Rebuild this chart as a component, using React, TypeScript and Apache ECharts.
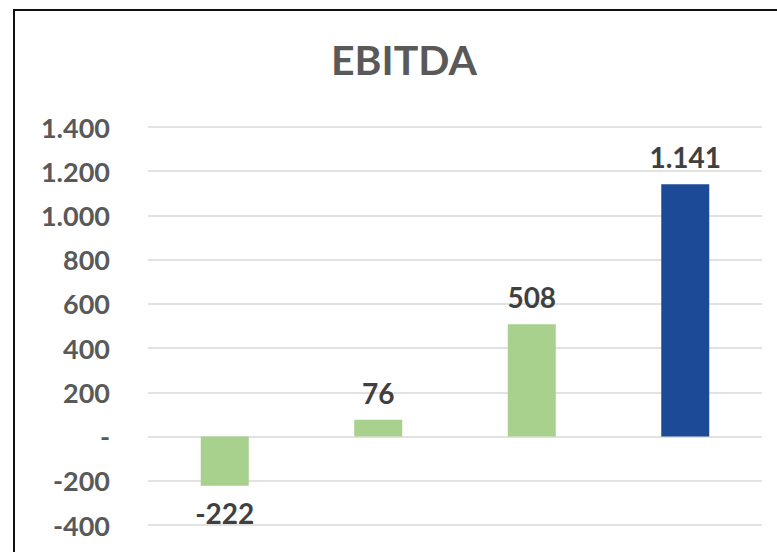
import React, { useEffect, useRef } from "react";
import * as echarts from "echarts";

const categories = ["A", "B", "C", "D"];
const values = [-222, 76, 508, 1141];
const barColors = ["#A9D18E", "#A9D18E", "#A9D18E", "#1C4A97"];
const yMin = -400;
const yMax = 1400;
const yInterval = 200;

const fmt = (v: number) => {
  if (v === 0) return "-";
  const s = Math.abs(v).toString().replace(/\B(?=(\d{3})+(?!\d))/g, ".");
  return (v < 0 ? "-" : "") + s;
};

export default function App() {
  const ref = useRef<HTMLDivElement>(null);
  useEffect(() => {
    if (!ref.current) return;
    const chart = echarts.init(ref.current, undefined, { renderer: "svg" });
    const font = "Lato, 'Open Sans', sans-serif";
    chart.setOption({
      animation: false,
      backgroundColor: "#FFFFFF",
      title: {
        text: "EBITDA",
        left: 326,
        top: 34,
        textStyle: { fontFamily: font, fontSize: 41, fontWeight: "bold", color: "#595959" },
      },
      graphic: [
        {
          type: "rect",
          shape: { x: 14, y: 10, width: 900, height: 900 },
          style: { fill: "none", stroke: "#111", lineWidth: 2 },
          z: 100,
        },
      ],
      grid: { left: 148, right: 15, top: 127, bottom: 27, containLabel: false },
      xAxis: {
        type: "category",
        data: categories,
        axisLine: { show: false },
        axisTick: { show: false },
        axisLabel: { show: false },
      },
      yAxis: {
        type: "value",
        min: yMin,
        max: yMax,
        interval: yInterval,
        axisLine: { show: false },
        axisTick: { show: false },
        splitLine: { lineStyle: { color: "#D9D9D9", width: 1.5 } },
        axisLabel: {
          margin: 38,
          formatter: (v: number) => fmt(v),
          fontFamily: font,
          fontSize: 27,
          fontWeight: "bold",
          color: "#595959",
        },
      },
      series: [
        {
          type: "bar",
          barWidth: 48,
          data: values.map((v, i) => ({
            value: v,
            itemStyle: { color: barColors[i] },
            label: { position: v < 0 ? "bottom" : "top" },
          })),
          label: {
            show: true,
            distance: 13,
            formatter: (p: any) => fmt(p.value),
            fontFamily: font,
            fontSize: 28,
            fontWeight: "bold",
            color: "#404040",
          },
        },
      ],
    });
    return () => chart.dispose();
  }, []);
  return (
    <div
      ref={ref}
      style={{ position: "fixed", left: 0, top: 0, width: 777, height: 552 }}
    />
  );
}
